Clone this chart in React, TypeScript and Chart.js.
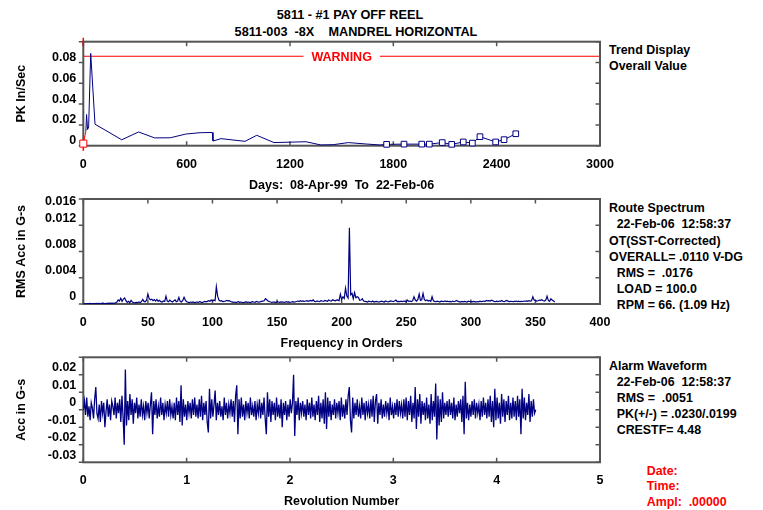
import React, { useEffect, useRef } from 'react';
import { Chart, registerables } from 'chart.js';

Chart.register(...registerables);

// ---------------- DATA ----------------
// Trend (days since 08-Apr-99, PK In/Sec)
const TREND_DAYS = [0, 15, 19, 25, 31, 43, 68, 223, 321, 414, 505, 595, 678, 749, 753, 800, 939, 1007, 1107, 1293, 1380, 1452, 1539, 1645, 1723, 1761, 1862, 1965, 2009, 2084, 2139, 2206, 2259, 2303, 2394, 2443, 2511];
const TREND_VALUES = [0.002, 0.014, 0.030, 0.0155, 0.018, 0.0888, 0.0207, 0.0057, 0.0132, 0.0075, 0.0076, 0.0112, 0.0125, 0.0127, 0.0045, 0.0068, 0.0042, 0.010, 0.003, 0.0038, 0.0007, 0.001, 0.003, 0.0016, 0.0007, 0.0013, 0.0015, 0.0015, 0.0015, 0.003, 0.0013, 0.0036, 0.0025, 0.0087, 0.0036, 0.0058, 0.0115];
const TREND_SQUARES_FROM = 25;
const TREND_WARNING = 0.086;
const TREND_X_TICKS = [0, 600, 1200, 1800, 2400, 3000];
const TREND_Y_TICKS = [0, 0.02, 0.04, 0.06, 0.08, 0.1];
const TREND_Y_LABELS = ['0', '0.02', '0.04', '0.06', '0.08', ''];

// Spectrum: one value per order (0..365), in units of 0.00001 G-s
const SPEC_UNIT = 0.00001;
const SPEC_E5 = [
  3, 5, 4, 6, 5, 8, 6, 5, 7, 6,
  8, 7, 10, 8, 9, 12, 9, 8, 11, 10,
  12, 10, 14, 11, 13, 15,
  30, 62, 45, 88, 40, 75, 92, 50,
  25, 40, 20, 55, 30, 22,
  18, 25, 20, 30, 22, 35,
  70, 40, 35, 60, 152, 80, 65, 72, 50, 68, 45, 70, 40, 55, 35,
  30, 45, 38,
  120, 45, 35, 58, 40, 30, 48, 62, 35, 45, 100, 40, 30, 55, 102, 60, 35,
  28, 22, 30, 25, 32, 20, 26, 30, 24, 35, 28, 22, 30, 38, 32, 40,
  50, 42, 60, 45, 58, 52,
  262, 120, 60, 45, 50,
  35, 40, 45, 55, 48, 50, 38, 32,
  25, 30, 22, 28, 35, 26, 30, 24, 20, 28, 32, 25, 30, 22, 28, 35, 30, 26, 38, 32, 28, 35, 40, 45, 50,
  82, 65, 45, 38, 30,
  25, 30, 28, 22, 35, 30, 25, 32, 28, 30, 24, 35, 28, 32, 26, 30, 35, 28, 32, 38,
  45, 38, 50, 42, 48, 40, 45, 52, 40, 48, 55, 45, 62,
  40, 35, 48, 42, 38, 52, 45, 40, 55, 48, 42, 60, 50, 45, 65, 55, 48, 58, 62, 50,
  150, 70, 110, 85, 240, 120, 90, 1163, 140, 162, 80, 172, 95, 110, 100, 55, 60, 80, 45,
  40, 35, 30, 42, 38, 32, 45, 30, 36, 40, 34, 28, 38, 42, 35, 30, 45, 38, 32, 40, 48, 42, 36,
  45, 60, 38, 40, 35, 42, 38, 45, 40, 35,
  58, 40, 45, 38, 50, 110, 60, 45, 70, 152, 55, 65, 160, 70, 50, 60, 45, 55, 40, 112, 50, 40,
  35, 42, 38, 30, 45, 40, 35, 48, 38, 42, 35, 40, 32, 45, 38, 42, 55, 40,
  35, 30, 38, 32, 40, 35, 30, 42, 38, 35, 32, 40, 36, 30, 38, 34, 42, 36, 40, 45, 38,
  55, 48, 52, 45, 58, 50,
  40, 35, 42, 38, 45, 40, 52, 38, 35, 48, 55, 40, 36, 42, 38, 35, 40, 45, 38, 42, 35, 40, 38, 45, 42, 48, 40, 52, 45, 50,
  110, 60, 55, 45, 50, 60, 55, 65, 50, 45, 60, 120, 55, 40, 80, 60, 45, 30,
];
const SPEC_X_TICKS = [0, 50, 100, 150, 200, 250, 300, 350, 400];
const SPEC_Y_TICKS = [0, 0.004, 0.008, 0.012, 0.016];
const SPEC_Y_LABELS = ['0', '0.004', '0.008', '0.012', '0.016'];

// Waveform: sampled every WAVE_REV_STEP revolutions, in units of 0.001 G-s
const WAVE_UNIT = 0.001;
const WAVE_REV_STEP = 0.011;
const WAVE_MG = [
  0, 5, -3, 7, -4, 2, -6, 4, 1, -5, 6, 13, -2, -5, 3, -7, 5, -2, 4, -10,
  -1, 6, -4, 3, -6, 5, 2, -3, 7, -5, 4, -2, 6, -7, 8, -4, -20, 23, -9, 5,
  -6, 9, -3, 6, -8, 4, -2, 7, -5, 3, -4, 6, -3, 2, -6, 5, -2, 4, -5, 3,
  10, -14, 5, -3, 6, -5, 2, -4, 7, -3, 4, -6, 3, -2, 5, -4, 6, -3, 2, -5,
  4, -6, 7, -3, 5, -7, 14, -9, 6, -4, 3, -6, 5, -2, 4, -5, 6, -3, 7, -4,
  3, -5, 6, -4, 8, -6, 4, -3, 5, -7, -13, 12, -5, 6, -4, 3, 11, -6, 4, -3,
  5, -4, 2, -6, 7, -3, 4, -5, 3, -2, 6, -4, 5, -7, 8, 14, -14, 6, -5, 7,
  -4, 3, -6, 5, -2, 4, -5, 7, -3, 2, -4, 5, -6, 3, -2, 6, -5, 4, -3, 7,
  -5, -14, 10, -4, 6, -7, 5, -3, 4, -6, 7, -4, 3, -5, 6, -10, 4, -3, 5, -6,
  3, -4, 6, -2, 4, 20, -15, 5, -3, 7, -6, 4, -2, 5, -4, 3, -6, 6, -3, 4,
  -5, 7, -4, 3, -6, 5, -3, 8, -7, 4, -5, 6, -8, 10, -11, 7, -4, 5, -6, 3,
  -3, 6, -5, 4, -2, 5, -6, 7, -4, 3, -5, 6, -3, 8, 13, -6, -13, 7, -5, 4,
  -3, 6, -4, 2, -5, 7, -3, 4, -6, 5, -2, 3, -5, 6, -4, 8, -7, 5, 9, -8,
  4, -3, 6, -5, 3, -4, 5, -2, 4, -6, 7, -3, 2, -5, 4, -3, 6, -4, 5, -2,
  3, -5, 6, -4, 7, -6, 5, -3, 8, -7, 4, -5, 13, -11, 6, -4, 9, -8, 5, -3,
  4, -6, 7, -5, 3, -8, 9, -6, 5, -4, 15, -17, 8, -9, 6, -7, 10, -5, 4, -3,
  5, -4, 6, -3, 4, -5, 7, -6, 3, -4, 5, -2, 6, -7, 8, -14, 16, -5, 4, -6,
  3, -4, 5, -3, 6, -5, 4, -2, 3, -6, 5, -4, 7, -3, 4, -5, 6, -4, 8, -7,
  5, -10, 12, -6, 7, -5, 4, -8, 9, -4, 6, -7, 5, -3, 8, -6, 4, -5, 7, -4,
  5, -6, 8, -4, 6, -14, 12, -5, 7, -6, 4, -3, 9, -7, 5, -4, 6, -2, 0,
];
const WAVE_X_TICKS = [0, 1, 2, 3, 4, 5];
const WAVE_Y_TICKS = [-0.03, -0.02, -0.01, 0, 0.01, 0.02, 0.03];
const WAVE_Y_LABELS = ['-0.03', '-0.02', '-0.01', '0', '0.01', '0.02', ''];

// ---------------- STYLE ----------------
const FONT = '"Liberation Sans", Arial, Helvetica, sans-serif';
const NAVY = '#000080';
const RED = '#ff0000';
const AXIS = '#555555';
const W = 763;
const H = 510;
const PLOT_LEFT = 83.3;
const PLOT_RIGHT = 600;
const X_AXIS_H = 47;

const framePlugin = {
  id: 'frame',
  beforeDraw(chart: any, _a: any, opts: any) {
    if (opts.clampTop != null) {
      const items = chart.scales.y.getLabelItems();
      const minY = chart.chartArea.top + opts.clampTop;
      for (const it of items) {
        const t = it.options.translation;
        if (t[1] < minY) t[1] = minY;
      }
    }
  },
  beforeDatasetsDraw(chart: any, _a: any, opts: any) {
    const ctx = chart.ctx;
    const { left, right, top, bottom } = chart.chartArea;
    const xs = chart.scales.x;
    const ys = chart.scales.y;
    ctx.save();
    if (opts.warning) {
      const y = ys.getPixelForValue(opts.warning.value);
      ctx.font = `bold 12.5px ${FONT}`;
      const tw = ctx.measureText(opts.warning.text).width;
      const cx = (left + right) / 2;
      const gap = 8;
      ctx.strokeStyle = RED;
      ctx.lineWidth = 1.2;
      ctx.beginPath();
      ctx.moveTo(left, y);
      ctx.lineTo(cx - tw / 2 - gap, y);
      ctx.moveTo(cx + tw / 2 + gap, y);
      ctx.lineTo(right, y);
      ctx.stroke();
      ctx.fillStyle = RED;
      ctx.textAlign = 'center';
      ctx.textBaseline = 'middle';
      ctx.fillText(opts.warning.text, cx, y + 1);
    }
    ctx.strokeStyle = AXIS;
    ctx.lineWidth = 2;
    ctx.strokeRect(left, top, right - left, bottom - top);
    ctx.lineWidth = 1.5;
    ctx.beginPath();
    const L = 4.5;
    for (const t of xs.ticks) {
      const px = xs.getPixelForValue(t.value);
      ctx.moveTo(px, top);
      ctx.lineTo(px, top + L);
      ctx.moveTo(px, bottom);
      ctx.lineTo(px, bottom - L);
    }
    for (const t of ys.ticks) {
      const py = ys.getPixelForValue(t.value);
      ctx.moveTo(left, py);
      ctx.lineTo(left - L, py);
      ctx.moveTo(right, py);
      ctx.lineTo(right - L, py);
    }
    ctx.stroke();
    if (opts.cursor != null) {
      const cx = xs.getPixelForValue(opts.cursor);
      ctx.strokeStyle = RED;
      ctx.lineWidth = 1.5;
      ctx.beginPath();
      ctx.moveTo(cx, top - 4);
      ctx.lineTo(cx, top + 4);
      ctx.moveTo(cx, bottom - 6);
      ctx.lineTo(cx, bottom + 5);
      ctx.stroke();
    }
    ctx.restore();
  },
};

type Panel = {
  top: number;
  bottom: number;
  datasets: any[];
  xMax: number;
  xTicks: number[];
  yMin: number;
  yMax: number;
  yTicks: number[];
  yLabels: string[];
  yTitle: string;
  xTitle: string;
  labelOffset: number;
  frame: any;
};

function makeChart(canvas: HTMLCanvasElement, p: Panel) {
  const tickFont = { family: FONT, size: 12.5, weight: 'bold' as const };
  return new Chart(canvas, {
    type: 'line',
    data: { datasets: p.datasets },
    plugins: [framePlugin as any],
    options: {
      animation: false,
      responsive: false,
      events: [],
      layout: { padding: { left: 0, right: W - PLOT_RIGHT, top: p.top, bottom: H - p.bottom - X_AXIS_H } },
      plugins: {
        legend: { display: false },
        tooltip: { enabled: false },
        frame: p.frame,
      } as any,
      scales: {
        x: {
          type: 'linear',
          min: 0,
          max: p.xMax,
          afterBuildTicks: (s: any) => { s.ticks = p.xTicks.map((v) => ({ value: v })); },
          afterFit: (s: any) => { s.height = X_AXIS_H; },
          grid: { display: false, drawTicks: false },
          border: { display: false },
          ticks: { autoSkip: false, maxRotation: 0, padding: 11, color: '#000', font: tickFont, callback: (v: any) => String(v) },
          title: { display: true, text: p.xTitle, color: '#000', font: tickFont, padding: { top: 0, bottom: 0 } },
        },
        y: {
          type: 'linear',
          min: p.yMin,
          max: p.yMax,
          afterBuildTicks: (s: any) => { s.ticks = p.yTicks.map((v) => ({ value: v })); },
          afterFit: (s: any) => { s.width = PLOT_LEFT; },
          grid: { display: false, drawTicks: false },
          border: { display: false },
          ticks: { autoSkip: false, padding: 7, labelOffset: p.labelOffset, color: '#000', font: tickFont, callback: (_v: any, i: number) => p.yLabels[i] },
          title: { display: true, text: p.yTitle, color: '#000', font: tickFont, padding: { top: 14.5, bottom: 0 } },
        },
      },
    } as any,
  });
}

const trendPanel: Panel = {
  top: 41.7,
  bottom: 145.7,
  datasets: [
    {
      data: TREND_DAYS.map((d, i) => ({ x: d, y: TREND_VALUES[i] })),
      borderColor: NAVY,
      borderWidth: 1,
      tension: 0,
      clip: 8,
      pointStyle: 'rect',
      pointRadius: TREND_DAYS.map((_, i) => (i === 0 ? 5 : i >= TREND_SQUARES_FROM ? 4 : 0)),
      pointBackgroundColor: '#ffffff',
      pointBorderColor: TREND_DAYS.map((_, i) => (i === 0 ? RED : NAVY)),
      pointBorderWidth: 1,
      segment: { borderColor: (c: any) => (c.p0DataIndex === 0 ? RED : NAVY) },
    },
  ],
  xMax: 3000,
  xTicks: TREND_X_TICKS,
  yMin: 0,
  yMax: 0.1,
  yTicks: TREND_Y_TICKS,
  yLabels: TREND_Y_LABELS,
  yTitle: 'PK In/Sec',
  xTitle: 'Days:  08-Apr-99  To  22-Feb-06',
  labelOffset: -5,
  frame: { warning: { value: TREND_WARNING, text: 'WARNING' }, cursor: 0 },
};

const specPanel: Panel = {
  top: 199,
  bottom: 304,
  datasets: [
    {
      data: SPEC_E5.map((v, i) => ({ x: i, y: v * SPEC_UNIT })),
      borderColor: NAVY,
      borderWidth: 1.2,
      tension: 0,
      pointRadius: 0,
    },
  ],
  xMax: 400,
  xTicks: SPEC_X_TICKS,
  yMin: 0,
  yMax: 0.016,
  yTicks: SPEC_Y_TICKS,
  yLabels: SPEC_Y_LABELS,
  yTitle: 'RMS Acc in G-s',
  xTitle: 'Frequency in Orders',
  labelOffset: -7,
  frame: { clampTop: 2.7 },
};

const wavePanel: Panel = {
  top: 357.3,
  bottom: 462.3,
  datasets: [
    {
      data: WAVE_MG.map((v, i) => ({ x: i * WAVE_REV_STEP, y: v * WAVE_UNIT })),
      borderColor: NAVY,
      borderWidth: 1.3,
      tension: 0,
      pointRadius: 0,
    },
  ],
  xMax: 5,
  xTicks: WAVE_X_TICKS,
  yMin: -0.03,
  yMax: 0.03,
  yTicks: WAVE_Y_TICKS,
  yLabels: WAVE_Y_LABELS,
  yTitle: 'Acc in G-s',
  xTitle: 'Revolution Number',
  labelOffset: -7,
  frame: {},
};

function PanelCanvas({ panel }: { panel: Panel }) {
  const ref = useRef<HTMLCanvasElement | null>(null);
  useEffect(() => {
    if (!ref.current) return;
    const c = makeChart(ref.current, panel);
    return () => c.destroy();
  }, [panel]);
  return <canvas ref={ref} width={W} height={H} style={{ position: 'absolute', left: 0, top: 0, width: W, height: H }} />;
}

type Line = { t: string; indent?: boolean };

function TextBlock({ left, top, lh, lines, color = '#000' }: { left: number; top: number; lh: number; lines: Line[]; color?: string }) {
  return (
    <div style={{ position: 'absolute', left, top: top - lh / 2, fontFamily: FONT, fontWeight: 'bold', fontSize: 12.4, lineHeight: `${lh}px`, color, whiteSpace: 'pre' }}>
      {lines.map((l, i) => (
        <div key={i} style={{ paddingLeft: l.indent ? 7.7 : 0 }}>{l.t}</div>
      ))}
    </div>
  );
}

function Centered({ cx, cy, text }: { cx: number; cy: number; text: string }) {
  return (
    <div style={{ position: 'absolute', left: cx - 250, top: cy - 8, width: 500, textAlign: 'center', fontFamily: FONT, fontWeight: 'bold', fontSize: 12.7, lineHeight: '16px', whiteSpace: 'pre', color: '#000' }}>
      {text}
    </div>
  );
}

export default function App() {
  return (
    <div style={{ position: 'fixed', left: 0, top: 0, width: W, height: H, background: '#fff', overflow: 'hidden' }}>
      <Centered cx={350} cy={15} text="5811 - #1 PAY OFF REEL" />
      <Centered cx={356} cy={32} text="5811-003  -8X    MANDREL HORIZONTAL" />
      <TextBlock left={609} top={50} lh={16} lines={[{ t: 'Trend Display' }, { t: 'Overall Value' }]} />
      <TextBlock
        left={609}
        top={208.3}
        lh={16.2}
        lines={[
          { t: 'Route Spectrum' },
          { t: '22-Feb-06  12:58:37', indent: true },
          { t: 'OT(SST-Corrected)' },
          { t: 'OVERALL= .0110 V-DG' },
          { t: 'RMS =  .0176', indent: true },
          { t: 'LOAD = 100.0', indent: true },
          { t: 'RPM = 66. (1.09 Hz)', indent: true },
        ]}
      />
      <TextBlock
        left={609}
        top={367.3}
        lh={15.9}
        lines={[
          { t: 'Alarm Waveform' },
          { t: '22-Feb-06  12:58:37', indent: true },
          { t: 'RMS =  .0051', indent: true },
          { t: 'PK(+/-) = .0230/.0199', indent: true },
          { t: 'CRESTF= 4.48', indent: true },
        ]}
      />
      <TextBlock left={646.7} top={471.7} lh={15.3} color={RED} lines={[{ t: 'Date:' }, { t: 'Time:' }, { t: 'Ampl:  .00000' }]} />
      <PanelCanvas panel={trendPanel} />
      <PanelCanvas panel={specPanel} />
      <PanelCanvas panel={wavePanel} />
    </div>
  );
}
